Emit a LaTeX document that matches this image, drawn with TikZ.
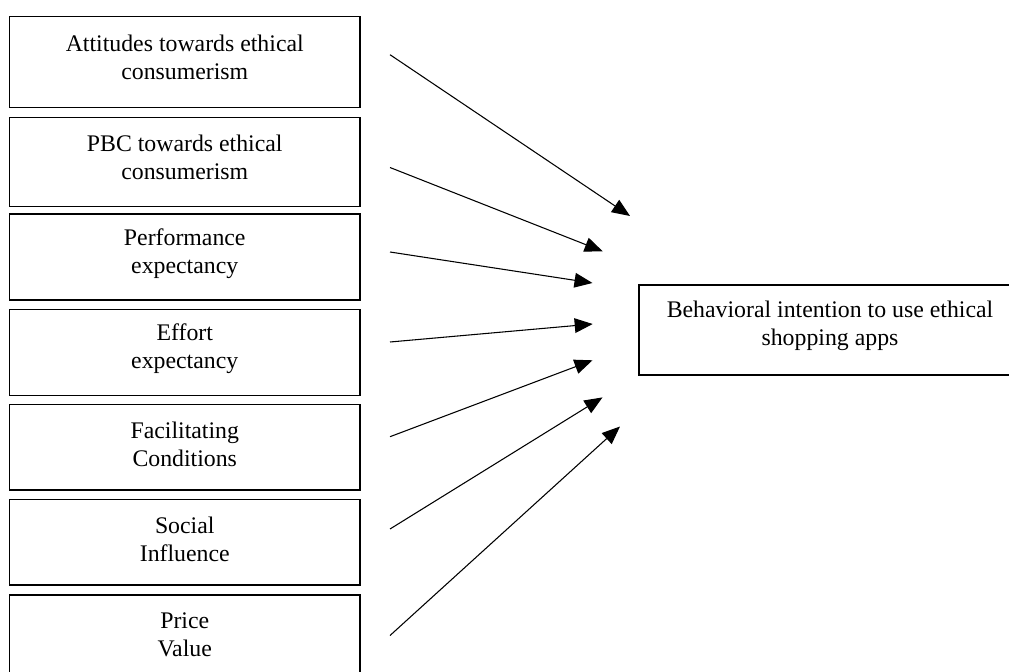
\documentclass[tikz,border=0pt]{standalone}
\usepackage{fontspec}
\setmainfont{Liberation Serif}
\usetikzlibrary{arrows.meta}
\begin{document}
\begin{tikzpicture}[x=0.75pt,y=-0.75pt,
  box/.style={draw=black,line width=1pt,inner sep=0pt,minimum width=263pt},
  txt/.style={align=center,font=\fontsize{17.85}{21}\selectfont},
  arr/.style={line width=0.8pt,-{Triangle[length=13.5pt,width=11pt]}}]
\useasboundingbox (0,0) rectangle (1009,671);
% left boxes: x from 9.5 to 360
\node[box,minimum height=68.25pt,label={[txt,yshift=3.5pt]center:Attitudes towards ethical\\consumerism}] (b1) at (184.75,62.2) {};
\node[box,minimum height=67pt,label={[txt,yshift=3.5pt]center:PBC towards ethical\\consumerism}] (b2) at (184.75,162) {};
\node[box,minimum height=64.5pt,label={[txt,yshift=2.5pt]center:Performance\\expectancy}] (b3) at (184.75,257) {};
\node[box,minimum height=64.5pt,label={[txt,yshift=2.5pt]center:Effort\\expectancy}] (b4) at (184.75,352.3) {};
\node[box,minimum height=64pt,label={[txt,yshift=2.5pt]center:Facilitating\\Conditions}] (b5) at (184.75,447.3) {};
\node[box,minimum height=64pt,label={[txt,yshift=2.5pt]center:Social\\Influence}] (b6) at (184.75,542.2) {};
\node[box,minimum height=64.5pt,label={[txt,yshift=2.5pt]center:Price\\Value}] (b7) at (184.75,638) {};
% right box
\node[box,minimum width=286.5pt,minimum height=67.5pt,label={[txt,yshift=3pt]center:Behavioral intention to use ethical\\shopping apps}] (t) at (830,330) {};
% arrow ends
\coordinate (s1) at (390,54.7);  \coordinate (e1) at (630,216);
\coordinate (s2) at (390,167.5); \coordinate (e2) at (602.7,251.3);
\coordinate (s3) at (390,252);   \coordinate (e3) at (592.5,283);
\coordinate (s4) at (390,342);   \coordinate (e4) at (592.7,324);
\coordinate (s5) at (390,436.7); \coordinate (e5) at (592.5,360.3);
\coordinate (s6) at (390,529);   \coordinate (e6) at (602.5,397.4);
\coordinate (s7) at (390,635.5); \coordinate (e7) at (620,426.5);
\foreach \i in {1,...,7} \draw[arr] (s\i) -- (e\i);
\end{tikzpicture}
\end{document}
